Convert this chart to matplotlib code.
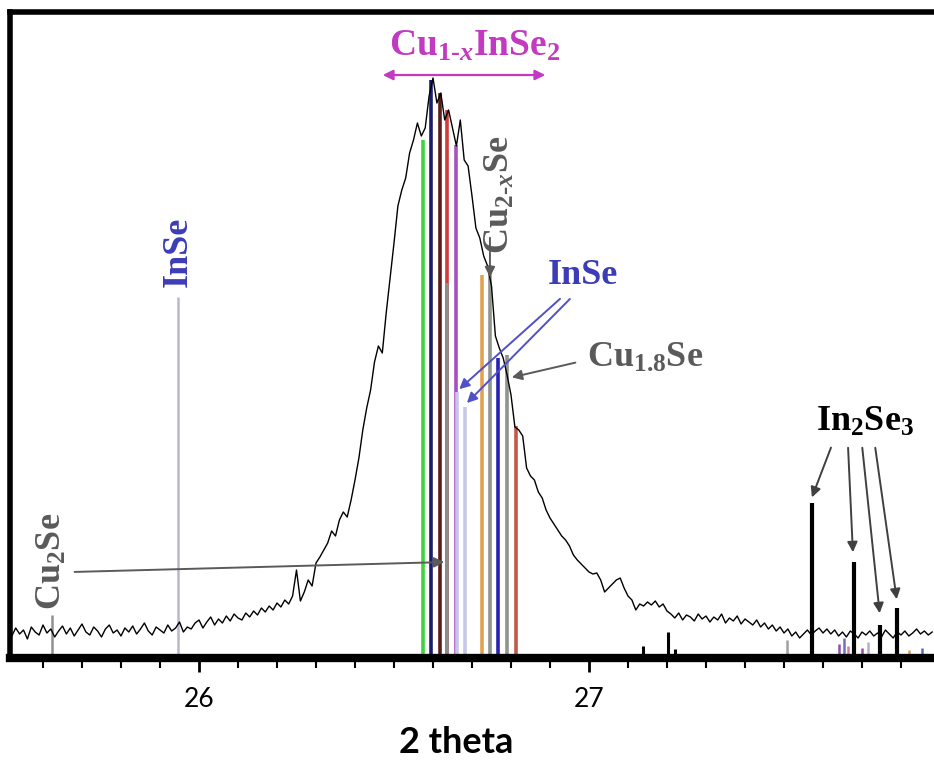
import numpy as np
import matplotlib
matplotlib.use("Agg")
import matplotlib.pyplot as plt
from matplotlib.ticker import MultipleLocator

plt.rcParams["mathtext.fontset"] = "custom"
plt.rcParams["mathtext.rm"] = "Liberation Serif:bold"
plt.rcParams["mathtext.bf"] = "Liberation Serif:bold"
plt.rcParams["mathtext.it"] = "Liberation Serif:bold:italic"

# measured pattern, 2theta step 0.01 starting at 25.52 (intensity in a.u.)
start_2theta = 25.52
step_2theta = 0.01
counts = [
    22, 30, 24, 28, 19, 31, 26, 23, 33, 25,
    29, 21, 27, 32, 24, 30, 22, 28, 34, 26,
    23, 31, 27, 21, 29, 33, 25, 28, 22, 30,
    26, 32, 24, 29, 35, 27, 23, 31, 28, 25,
    33, 27, 30, 36, 26, 31, 29, 35, 38, 30,
    36, 41, 33, 39, 35, 42, 37, 44, 40, 38,
    45, 41, 47, 43, 50, 46, 52, 48, 55, 51,
    58, 54, 62, 88, 57, 66, 78, 72, 95, 101,
    108, 115, 127, 122, 138, 146, 141, 158, 178, 200,
    228, 250, 268, 296, 312, 305, 345, 380, 415, 452,
    468, 480, 505, 518, 535, 522, 530, 562, 580, 555,
    565, 538, 548, 530, 512, 538, 498, 492, 462, 430,
    420, 402, 392, 372, 322, 310, 300, 283, 263, 231,
    228, 222, 190, 182, 178, 166, 160, 148, 140, 134,
    128, 122, 118, 112, 103, 98, 94, 90, 86, 84,
    85, 78, 66, 70, 74, 78, 80, 70, 62, 58,
    48, 54, 52, 56, 53, 57, 51, 54, 47, 44,
    40, 45, 38, 43, 41, 37, 44, 39, 42, 36,
    41, 38, 44, 35, 40, 37, 42, 34, 39, 36,
    33, 38, 31, 35, 29, 33, 27, 31, 25, 29,
    22, 26, 20, 24, 28, 23, 27, 30, 25, 29,
    24, 28, 22, 26, 21, 27, 24, 20, 26, 23,
    27, 22, 25, 21, 28, 24, 20, 26, 23, 27,
    22, 25, 29, 24, 27, 23, 26,
]
two_theta = np.round(start_2theta + step_2theta * np.arange(len(counts)), 3)

# reference (PDF) stick positions under the main peak
ref_pos = [26.574, 26.594, 26.618, 26.635, 26.637, 26.659, 26.661, 26.683,
           26.725, 26.746, 26.767, 26.791, 26.812]
ref_top = [518, 578, 565, 548, 375, 513, 266, 251, 383, 393, 300, 303, 232]
ref_col = ["#3fd43f", "#1b1b6e", "#5a1c1c", "#d23a3a", "#8c8c8c", "#a84fc2",
           "#c6c6e6", "#c6c6e6", "#e3a253", "#8e948e", "#2424b4", "#8e948e",
           "#c25a48"]

# other phases
inse_pos, inse_top = 25.946, 361
cu2se_pos, cu2se_top = 25.623, 43
small_pos = [27.138, 27.203, 27.221]
small_top = [12, 26, 9]
in2se3_pos = [27.571, 27.679, 27.746, 27.790]
in2se3_top = [155, 96, 33, 50]
minor_pos = [27.508, 27.640, 27.655, 27.665, 27.700, 27.715, 27.820, 27.855]
minor_top = [18, 14, 20, 12, 10, 16, 8, 10]
minor_col = ["#a0a0a0", "#9050b0", "#7070c0", "#d080a0", "#9050b0", "#b0b0d0",
             "#e0a050", "#5070c0"]

fig = plt.figure(figsize=(9.34, 7.65), dpi=100)
ax = fig.add_axes([10 / 934, 107 / 765, 1 - 10 / 934, 646 / 765])

ax.vlines(ref_pos, 0, ref_top, colors=ref_col, lw=2.6, zorder=2)
ax.vlines(inse_pos, 0, inse_top, colors="#b8b8cc", lw=1.8, zorder=2)
ax.vlines(cu2se_pos, 0, cu2se_top, colors="#909090", lw=1.8, zorder=2)
ax.vlines(minor_pos, 0, minor_top, colors=minor_col, lw=1.8, zorder=2)
ax.vlines(small_pos, 0, small_top, colors="black", lw=2.2, zorder=2)
ax.vlines(in2se3_pos, 0, in2se3_top, colors="black", lw=3, zorder=2)

ax.plot(two_theta, counts, color="black", lw=1.0, zorder=3)

ax.set_xlim(26 - 189 / 390, 27 + 345 / 390)
ax.set_ylim(0, 646)

serif = "Liberation Serif"
gray = "#5a5a5a"
blue = "#3c3cb8"
mag = "#c23ac2"
fs = 26
arrow_kw = dict(arrowstyle="-|>", lw=1.4, mutation_scale=15)

# Cu(1-x)InSe2 range
ax.annotate("", xy=(26.464, 583), xytext=(26.895, 583),
            arrowprops=dict(arrowstyle="<|-|>", color=mag, lw=1.6, mutation_scale=15))
ax.text(26.708, 612, r"Cu$_{1\text{-}x}$InSe$_2$", color=mag,
        fontsize=27, fontweight="bold", family=serif, ha="center", va="center")

# Cu(2-x)Se
ax.text(26.772, 463, r"Cu$_{2\text{-}x}$Se", color=gray, fontsize=fs,
        fontweight="bold", family=serif, rotation=90, ha="center", va="center")
ax.annotate("", xy=(26.746, 378), xytext=(26.746, 423),
            arrowprops=dict(color=gray, **arrow_kw))

# InSe (near peak)
ax.text(26.985, 382, "InSe", color=blue, fontsize=fs, fontweight="bold",
        family=serif, ha="center", va="center")
ax.annotate("", xy=(26.662, 267), xytext=(26.931, 361),
            arrowprops=dict(color="#5050c8", **arrow_kw))
ax.annotate("", xy=(26.682, 253), xytext=(26.956, 361),
            arrowprops=dict(color="#5050c8", **arrow_kw))

# Cu1.8Se
ax.text(27.144, 300, r"Cu$_{1.8}$Se", color=gray, fontsize=fs,
        fontweight="bold", family=serif, ha="center", va="center")
ax.annotate("", xy=(26.795, 280), xytext=(26.972, 296),
            arrowprops=dict(color=gray, **arrow_kw))

# InSe (left stick)
ax.text(25.946, 406, "InSe", color=blue, fontsize=fs, fontweight="bold",
        family=serif, rotation=90, ha="center", va="center")

# Cu2Se
ax.text(25.623, 97, r"Cu$_2$Se", color=gray, fontsize=fs, fontweight="bold",
        family=serif, rotation=90, ha="center", va="center")
ax.annotate("", xy=(26.636, 96), xytext=(25.674, 86),
            arrowprops=dict(color=gray, **arrow_kw))

# In2Se3
ax.text(27.708, 236, r"In$_2$Se$_3$", color="black", fontsize=fs,
        fontweight="bold", family=serif, ha="center", va="center")
for tail, head in zip([(27.623, 213), (27.664, 213), (27.700, 213), (27.733, 213)],
                      [(27.569, 158), (27.677, 103), (27.746, 42), (27.790, 56)]):
    ax.annotate("", xy=head, xytext=tail,
                arrowprops=dict(color="#404040", **arrow_kw))

# frame
ax.spines["right"].set_visible(False)
ax.spines["left"].set_linewidth(4)
ax.spines["top"].set_linewidth(4)
ax.spines["bottom"].set_linewidth(6)

ax.yaxis.set_visible(False)
ax.xaxis.set_major_locator(MultipleLocator(1))
ax.xaxis.set_minor_locator(MultipleLocator(0.1))
ax.tick_params(axis="x", which="major", direction="out", length=10, width=2,
               pad=11, labelsize=19, colors="black")
ax.tick_params(axis="x", which="minor", direction="out", length=7, width=1.5)
for lbl in ax.get_xticklabels():
    lbl.set_family("Lato")
ax.set_xlabel("2 theta", fontsize=26, fontweight="bold", family="Lato")
ax.xaxis.set_label_coords(0.483, -0.106)

fig.savefig("out.png", dpi=100)
